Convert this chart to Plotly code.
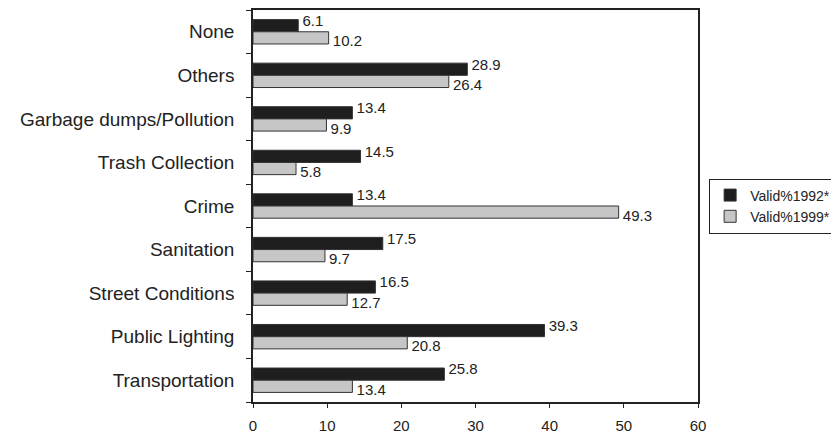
import plotly.graph_objects as go

categories = ["Transportation", "Public Lighting", "Street Conditions", "Sanitation",
              "Crime", "Trash Collection", "Garbage dumps/Pollution", "Others", "None"]
valid_1992 = [25.8, 39.3, 16.5, 17.5, 13.4, 14.5, 13.4, 28.9, 6.1]
valid_1999 = [13.4, 20.8, 12.7, 9.7, 49.3, 5.8, 9.9, 26.4, 10.2]
x_ticks = [0, 10, 20, 30, 40, 50, 60]

FONT = "Liberation Sans"
INK = "#222222"
BAR_W = 0.28

pos = list(range(len(categories)))
boundaries = [p - 0.5 for p in pos] + [pos[-1] + 0.5]

fig = go.Figure()
fig.add_trace(go.Bar(
    y=pos, x=valid_1992, orientation="h", name="Valid%1992*",
    width=BAR_W, offset=0,
    marker=dict(color="#1e1e1e", line=dict(color="#333333", width=1)),
))
fig.add_trace(go.Bar(
    y=pos, x=valid_1999, orientation="h", name="Valid%1999*",
    width=BAR_W, offset=-BAR_W,
    marker=dict(color="#c6c6c6", line=dict(color="#333333", width=1)),
))
# value labels
fig.add_trace(go.Scatter(
    y=[p + BAR_W / 2 + 0.08 for p in pos], x=valid_1992, mode="text",
    text=[" %.1f" % v for v in valid_1992], textposition="middle right",
    textfont=dict(family=FONT, size=15, color=INK), showlegend=False,
    hoverinfo="skip", cliponaxis=False,
))
fig.add_trace(go.Scatter(
    y=[p - BAR_W / 2 - 0.11 for p in pos], x=valid_1999, mode="text",
    text=[" %.1f" % v for v in valid_1999], textposition="middle right",
    textfont=dict(family=FONT, size=15, color=INK), showlegend=False,
    hoverinfo="skip", cliponaxis=False,
))

fig.update_layout(
    width=831, height=427,
    margin=dict(l=245, r=141, t=2, b=33, autoexpand=False),
    paper_bgcolor="white", plot_bgcolor="white",
    barmode="overlay",
    font=dict(family=FONT, color=INK),
    showlegend=True,
    legend=dict(x=1.025, y=0.50, xanchor="left", yanchor="middle",
                traceorder="normal", bordercolor=INK, borderwidth=1,
                bgcolor="white", font=dict(family=FONT, size=14, color=INK),
                itemwidth=30),
    xaxis=dict(range=[0, 60], tickvals=x_ticks, ticks="outside", ticklen=4,
               tickcolor=INK, showline=True, linecolor=INK, linewidth=1.5,
               mirror=True, showgrid=False, zeroline=False, automargin=False,
               tickfont=dict(family=FONT, size=15, color=INK),
               ticklabelstandoff=5),
    yaxis=dict(range=[-0.5, len(categories) - 0.5], tickvals=pos, ticktext=categories,
               ticks="outside", ticklen=5, tickcolor="rgba(0,0,0,0)",
               minor=dict(tickvals=boundaries, ticks="outside", ticklen=5,
                          tickcolor=INK, showgrid=False),
               showline=True, linecolor=INK, linewidth=1.5, mirror=True,
               showgrid=False, zeroline=False, automargin=False,
               tickfont=dict(family=FONT, size=19, color=INK),
               ticklabelstandoff=8),
)

fig.write_html("out.html")
